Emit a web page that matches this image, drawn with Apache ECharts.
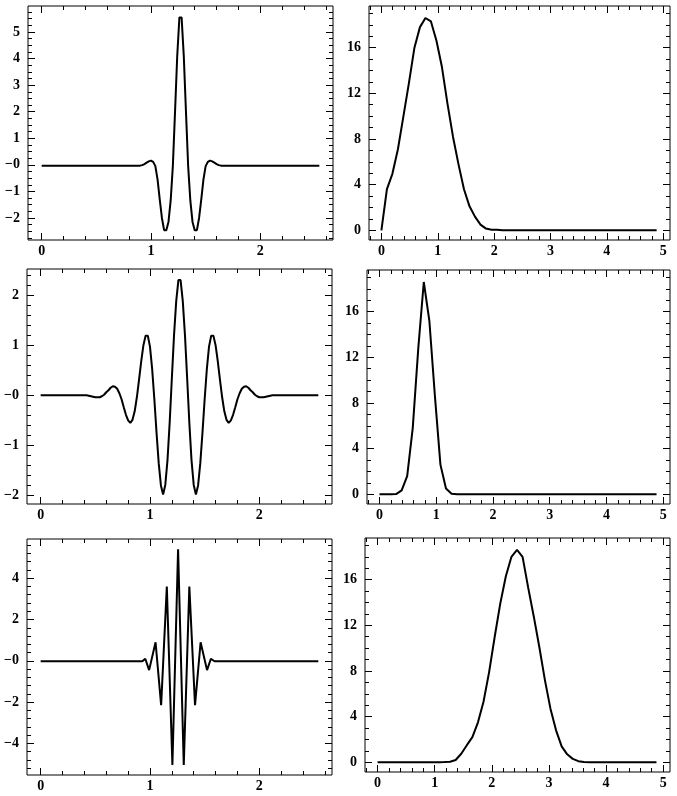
<!DOCTYPE html>
<html>
<head>
<meta charset="utf-8">
<title>Wavelets and amplitude spectra</title>
<script src="https://cdn.jsdelivr.net/npm/echarts@6/dist/echarts.min.js"></script>
<style>
  html, body { margin: 0; padding: 0; background: #fff; }
  #chart { width: 677px; height: 796px; }
</style>
</head>
<body>
<div id="chart"></div>
<script>
// --- wavelets (time, amplitude) ---
const wave1T = [0, 0.88, 0.90, 0.92, 0.94, 0.96, 0.98, 1.00, 1.02, 1.04, 1.06, 1.08, 1.10, 1.12, 1.14, 1.16, 1.18, 1.20,
  1.22, 1.24, 1.26, 1.28, 1.30, 1.32, 1.34, 1.36, 1.38, 1.40, 1.42, 1.44, 1.46, 1.48, 1.50, 1.52, 1.54, 1.56, 1.58,
  1.60, 1.62, 1.64, 2.54];
const wave1Y = [-0.03, -0.03, -0.03, -0.01, 0.03, 0.08, 0.13, 0.16, 0.11, -0.05, -0.55, -1.30, -2.00, -2.46, -2.46,
  -2.15, -1.35, -0.05, 2.00, 4.10, 5.55, 5.55, 4.10, 2.00, -0.05, -1.35, -2.15, -2.46, -2.46, -2.00, -1.30, -0.55,
  -0.05, 0.11, 0.16, 0.13, 0.08, 0.03, -0.01, -0.03, -0.03];

const wave2T = [0,
  0.42, 0.44, 0.46, 0.48, 0.50, 0.52, 0.54, 0.56, 0.58, 0.60, 0.62, 0.64, 0.66, 0.68, 0.70, 0.72, 0.74, 0.76, 0.78,
  0.80, 0.82, 0.84, 0.86, 0.88, 0.90, 0.92, 0.94, 0.96, 0.98, 1.00, 1.02, 1.04, 1.06, 1.08, 1.10, 1.12, 1.14, 1.16,
  1.18, 1.20, 1.22, 1.24, 1.26,
  1.28, 1.30, 1.32, 1.34, 1.36, 1.38, 1.40, 1.42, 1.44, 1.46, 1.48, 1.50, 1.52, 1.54, 1.56, 1.58, 1.60, 1.62, 1.64,
  1.66, 1.68, 1.70, 1.72, 1.74, 1.76, 1.78, 1.80, 1.82, 1.84, 1.86, 1.88, 1.90, 1.92, 1.94, 1.96, 1.98, 2.00, 2.02,
  2.04, 2.06, 2.08, 2.10, 2.12,
  2.54];
const wave2Y = [0,
  0.00, -0.01, -0.02, -0.03, -0.04, -0.04, -0.04, -0.02, 0.01, 0.06, 0.10, 0.15, 0.18, 0.17, 0.13, 0.04, -0.08,
  -0.24, -0.39, -0.50, -0.55, -0.49, -0.32, -0.04, 0.31, 0.68, 1.00, 1.19, 1.19, 0.97, 0.52, -0.08, -0.75, -1.36,
  -1.80, -1.98, -1.79, -1.30, -0.55, 0.34, 1.20, 1.88, 2.30,
  2.30, 1.88, 1.20, 0.34, -0.55, -1.30, -1.79, -1.98, -1.80, -1.36, -0.75, -0.08, 0.52, 0.97, 1.19, 1.19, 1.00,
  0.68, 0.31, -0.04, -0.32, -0.49, -0.55, -0.50, -0.39, -0.24, -0.08, 0.04, 0.13, 0.17, 0.18, 0.15, 0.10, 0.06,
  0.01, -0.02, -0.04, -0.04, -0.04, -0.03, -0.02, -0.01, 0.00,
  0];

const wave3T = [0, 0.93, 0.957, 0.992, 1.051, 1.102, 1.154, 1.205, 1.257, 1.309, 1.36, 1.412, 1.463, 1.522, 1.557, 1.59, 2.54];
const wave3Y = [-0.02, -0.02, 0.1, -0.45, 0.9, -2.15, 3.6, -5.05, 5.4, -5.05, 3.6, -2.15, 0.9, -0.45, 0.1, -0.02, -0.02];

// --- amplitude spectra (frequency, amplitude) ---
const freq = [0, 0.098, 0.195, 0.293, 0.391, 0.488, 0.586, 0.684, 0.781, 0.879, 0.977, 1.074, 1.172, 1.27, 1.367,
  1.465, 1.563, 1.66, 1.758, 1.855, 1.953, 2.051, 2.148, 2.246, 2.344, 2.441, 2.539, 2.637, 2.734, 2.832, 2.93,
  3.027, 3.125, 3.223, 3.32, 3.418, 3.516, 3.613, 3.711, 3.809, 3.906, 4.004, 4.102, 4.199, 4.297, 4.395, 4.492,
  4.59, 4.688, 4.785, 4.883];
const spec1 = [0, 3.6, 4.95, 7.1, 10.0, 12.9, 16.0, 17.8, 18.6, 18.3, 16.6, 14.3, 11.1, 8.2, 5.8, 3.6, 2.1, 1.2,
  0.5, 0.15, 0.05, 0.05, 0, 0, 0, 0, 0, 0, 0, 0, 0, 0, 0, 0, 0, 0, 0, 0, 0, 0, 0, 0, 0, 0, 0, 0, 0, 0, 0, 0, 0];
const spec2 = [0, 0, 0, 0.02, 0.35, 1.6, 5.8, 12.8, 18.6, 15.2, 8.6, 2.6, 0.5, 0.05, 0, 0, 0, 0, 0, 0, 0, 0, 0,
  0, 0, 0, 0, 0, 0, 0, 0, 0, 0, 0, 0, 0, 0, 0, 0, 0, 0, 0, 0, 0, 0, 0, 0, 0, 0, 0, 0];
const spec3 = [0, 0, 0, 0, 0, 0, 0, 0, 0, 0, 0, 0, 0.02, 0.05, 0.2, 0.75, 1.5, 2.2, 3.5, 5.3, 7.9, 11.0, 13.9,
  16.3, 18.0, 18.6, 18.0, 15.3, 12.8, 10.1, 7.2, 4.7, 2.8, 1.4, 0.7, 0.3, 0.1, 0.02, 0, 0, 0, 0, 0, 0, 0, 0, 0, 0,
  0, 0, 0];

// --- tick labels ---
const waveXTicks = [0, 1, 2];
const wave1YTicks = [-2, -1, 0, 1, 2, 3, 4, 5];
const wave2YTicks = [-2, -1, 0, 1, 2];
const wave3YTicks = [-4, -2, 0, 2, 4];
const specXTicks = [0, 1, 2, 3, 4, 5];
const specYTicks = [0, 4, 8, 12, 16];

const MINUS = '\u2212';
const plainLabel = v => String(v);
// the wavelet panels print their zero as "-0"
const waveLabel = v => (v === 0 ? MINUS + '0' : v < 0 ? MINUS + Math.abs(v) : String(v));

const specX = [-0.22, 5.12];
const specY = [-0.85, 19.65];
const waveX = [-0.125, 2.665];

const panels = [
  { box: [28, 6, 305, 234], x: waveX, y: [-2.83, 5.98], xTicks: waveXTicks, xMinor: 0.2,
    yTicks: wave1YTicks, yMinor: 0.25, yFmt: waveLabel, t: wave1T, v: wave1Y },
  { box: [369, 6, 301, 234], x: specX, y: specY, xTicks: specXTicks, xMinor: 0.2,
    yTicks: specYTicks, yMinor: 1, yFmt: plainLabel, t: freq, v: spec1 },
  { box: [27, 269, 305, 235], x: waveX, y: [-2.17, 2.52], xTicks: waveXTicks, xMinor: 0.2,
    yTicks: wave2YTicks, yMinor: 0.2, yFmt: waveLabel, t: wave2T, v: wave2Y },
  { box: [367, 270, 303, 234], x: specX, y: specY, xTicks: specXTicks, xMinor: 0.2,
    yTicks: specYTicks, yMinor: 1, yFmt: plainLabel, t: freq, v: spec2 },
  { box: [27, 539, 305, 236], x: waveX, y: [-5.53, 5.9], xTicks: waveXTicks, xMinor: 0.2,
    yTicks: wave3YTicks, yMinor: 0.4, yFmt: waveLabel, t: wave3T, v: wave3Y },
  { box: [365, 538, 305, 234], x: specX, y: specY, xTicks: specXTicks, xMinor: 0.2,
    yTicks: specYTicks, yMinor: 1, yFmt: plainLabel, t: freq, v: spec3 },
];

const steps = (min, max, step) => {
  const out = [];
  for (let k = Math.ceil(min / step - 1e-9); k * step <= max + 1e-9; k++) out.push(+(k * step).toFixed(4));
  return out;
};

const labelFont = {
  color: '#000',
  fontFamily: 'Liberation Serif',
  fontWeight: 'bold',
  fontSize: 14,
};

const makeAxis = (gridIndex, position, range, ticks, len, fmt, margin) => ({
  type: 'value',
  gridIndex,
  position,
  min: range[0],
  max: range[1],
  axisLine: { show: false, onZero: false },
  splitLine: { show: false },
  axisTick: { show: true, inside: true, length: len, customValues: ticks, lineStyle: { color: '#000', width: 1 } },
  axisLabel: fmt
    ? { show: true, customValues: ticks, formatter: fmt, margin, ...labelFont }
    : { show: false },
});

const grids = [];
const xAxes = [];
const yAxes = [];
const series = [];

panels.forEach((p, i) => {
  grids.push({
    left: p.box[0], top: p.box[1], width: p.box[2], height: p.box[3],
    show: true, borderColor: '#000', borderWidth: 1, backgroundColor: 'transparent',
    outerBoundsMode: 'none',
  });
  const xMinor = steps(p.x[0], p.x[1], p.xMinor);
  const yMinor = steps(p.y[0], p.y[1], p.yMinor);
  const xi = xAxes.length;
  const yi = yAxes.length;
  xAxes.push(makeAxis(i, 'bottom', p.x, p.xTicks, 7, plainLabel, 4));
  xAxes.push(makeAxis(i, 'bottom', p.x, xMinor, 4));
  xAxes.push(makeAxis(i, 'top', p.x, p.xTicks, 7));
  xAxes.push(makeAxis(i, 'top', p.x, xMinor, 4));
  yAxes.push(makeAxis(i, 'left', p.y, p.yTicks, 7, p.yFmt, 8));
  yAxes.push(makeAxis(i, 'left', p.y, yMinor, 4));
  yAxes.push(makeAxis(i, 'right', p.y, p.yTicks, 7));
  yAxes.push(makeAxis(i, 'right', p.y, yMinor, 4));
  series.push({
    type: 'line',
    xAxisIndex: xi,
    yAxisIndex: yi,
    data: p.t.map((t, k) => [t, p.v[k]]),
    showSymbol: false,
    silent: true,
    lineStyle: { color: '#000', width: 2 },
  });
});

const chart = echarts.init(document.getElementById('chart'));
chart.setOption({
  animation: false,
  backgroundColor: '#fff',
  grid: grids,
  xAxis: xAxes,
  yAxis: yAxes,
  series,
});
</script>
</body>
</html>
